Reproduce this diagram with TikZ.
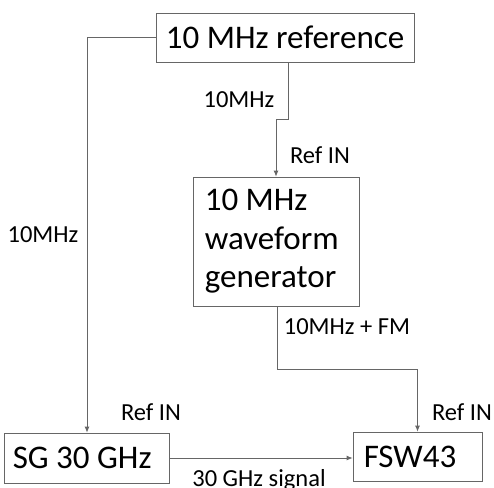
\documentclass[tikz,border=0pt]{standalone}
\usepackage{fontspec}
\setmainfont{Carlito}
\usetikzlibrary{arrows.meta}
\begin{document}
\begin{tikzpicture}[x=1pt,y=-1pt,
  box/.style={draw=black!60, line width=0.8pt, inner sep=0pt},
  big/.style={font=\fontsize{33}{38.5}\selectfont, inner sep=0pt},
  lbl/.style={font=\fontsize{24.5}{28}\selectfont, inner sep=0pt},
  conn/.style={draw=black!60, line width=0.8pt, -{Latex[length=6pt,width=5pt]}}]
\useasboundingbox (0,0) rectangle (494,487);
\node[box, big, minimum width=258pt, minimum height=49pt] (ref) at (285,37.5) {10 MHz reference};
\node[box, minimum width=166pt, minimum height=129pt] (wfg) at (276,241.5) {};
\node[big, anchor=west, align=left] (wfgt) at ([xshift=12pt]wfg.west) {10 MHz\\waveform\\generator};
\node[box, minimum width=165pt, minimum height=50pt] (sg) at (86.5,458) {};
\node[big, anchor=west] (sgt) at ([xshift=9pt]sg.west) {SG 30 GHz};
\node[box, minimum width=129pt, minimum height=49pt] (fsw) at (417.5,456.5) {};
\node[big, anchor=west] (fswt) at ([xshift=11pt]fsw.west) {FSW43};
\coordinate (k1) at (288,119);
\coordinate (k2) at (277,369);
\coordinate (k0) at (87,37.5);
\draw[conn] (ref.west) -- (k0) -- (sg.north -| k0);
\draw[conn] (ref.south -| k1) -- (k1) -| (wfg.north);
\draw[conn] (wfg.south -| k2) -- (k2) -| (fsw.north);
\draw[conn] (sg.east) -- (sg.east -| fsw.west);
\node[lbl] (l1) at (239,100) {10MHz};
\node[lbl] (l2) at (320,155) {Ref IN};
\node[lbl] (l3) at (347,327) {10MHz + FM};
\node[lbl] (l4) at (43,235) {10MHz};
\node[lbl] (l5) at (151,412) {Ref IN};
\node[lbl] (l6) at (462,412) {Ref IN};
\node[lbl] (l7) at (259,480) {30 GHz signal};
\end{tikzpicture}
\end{document}
